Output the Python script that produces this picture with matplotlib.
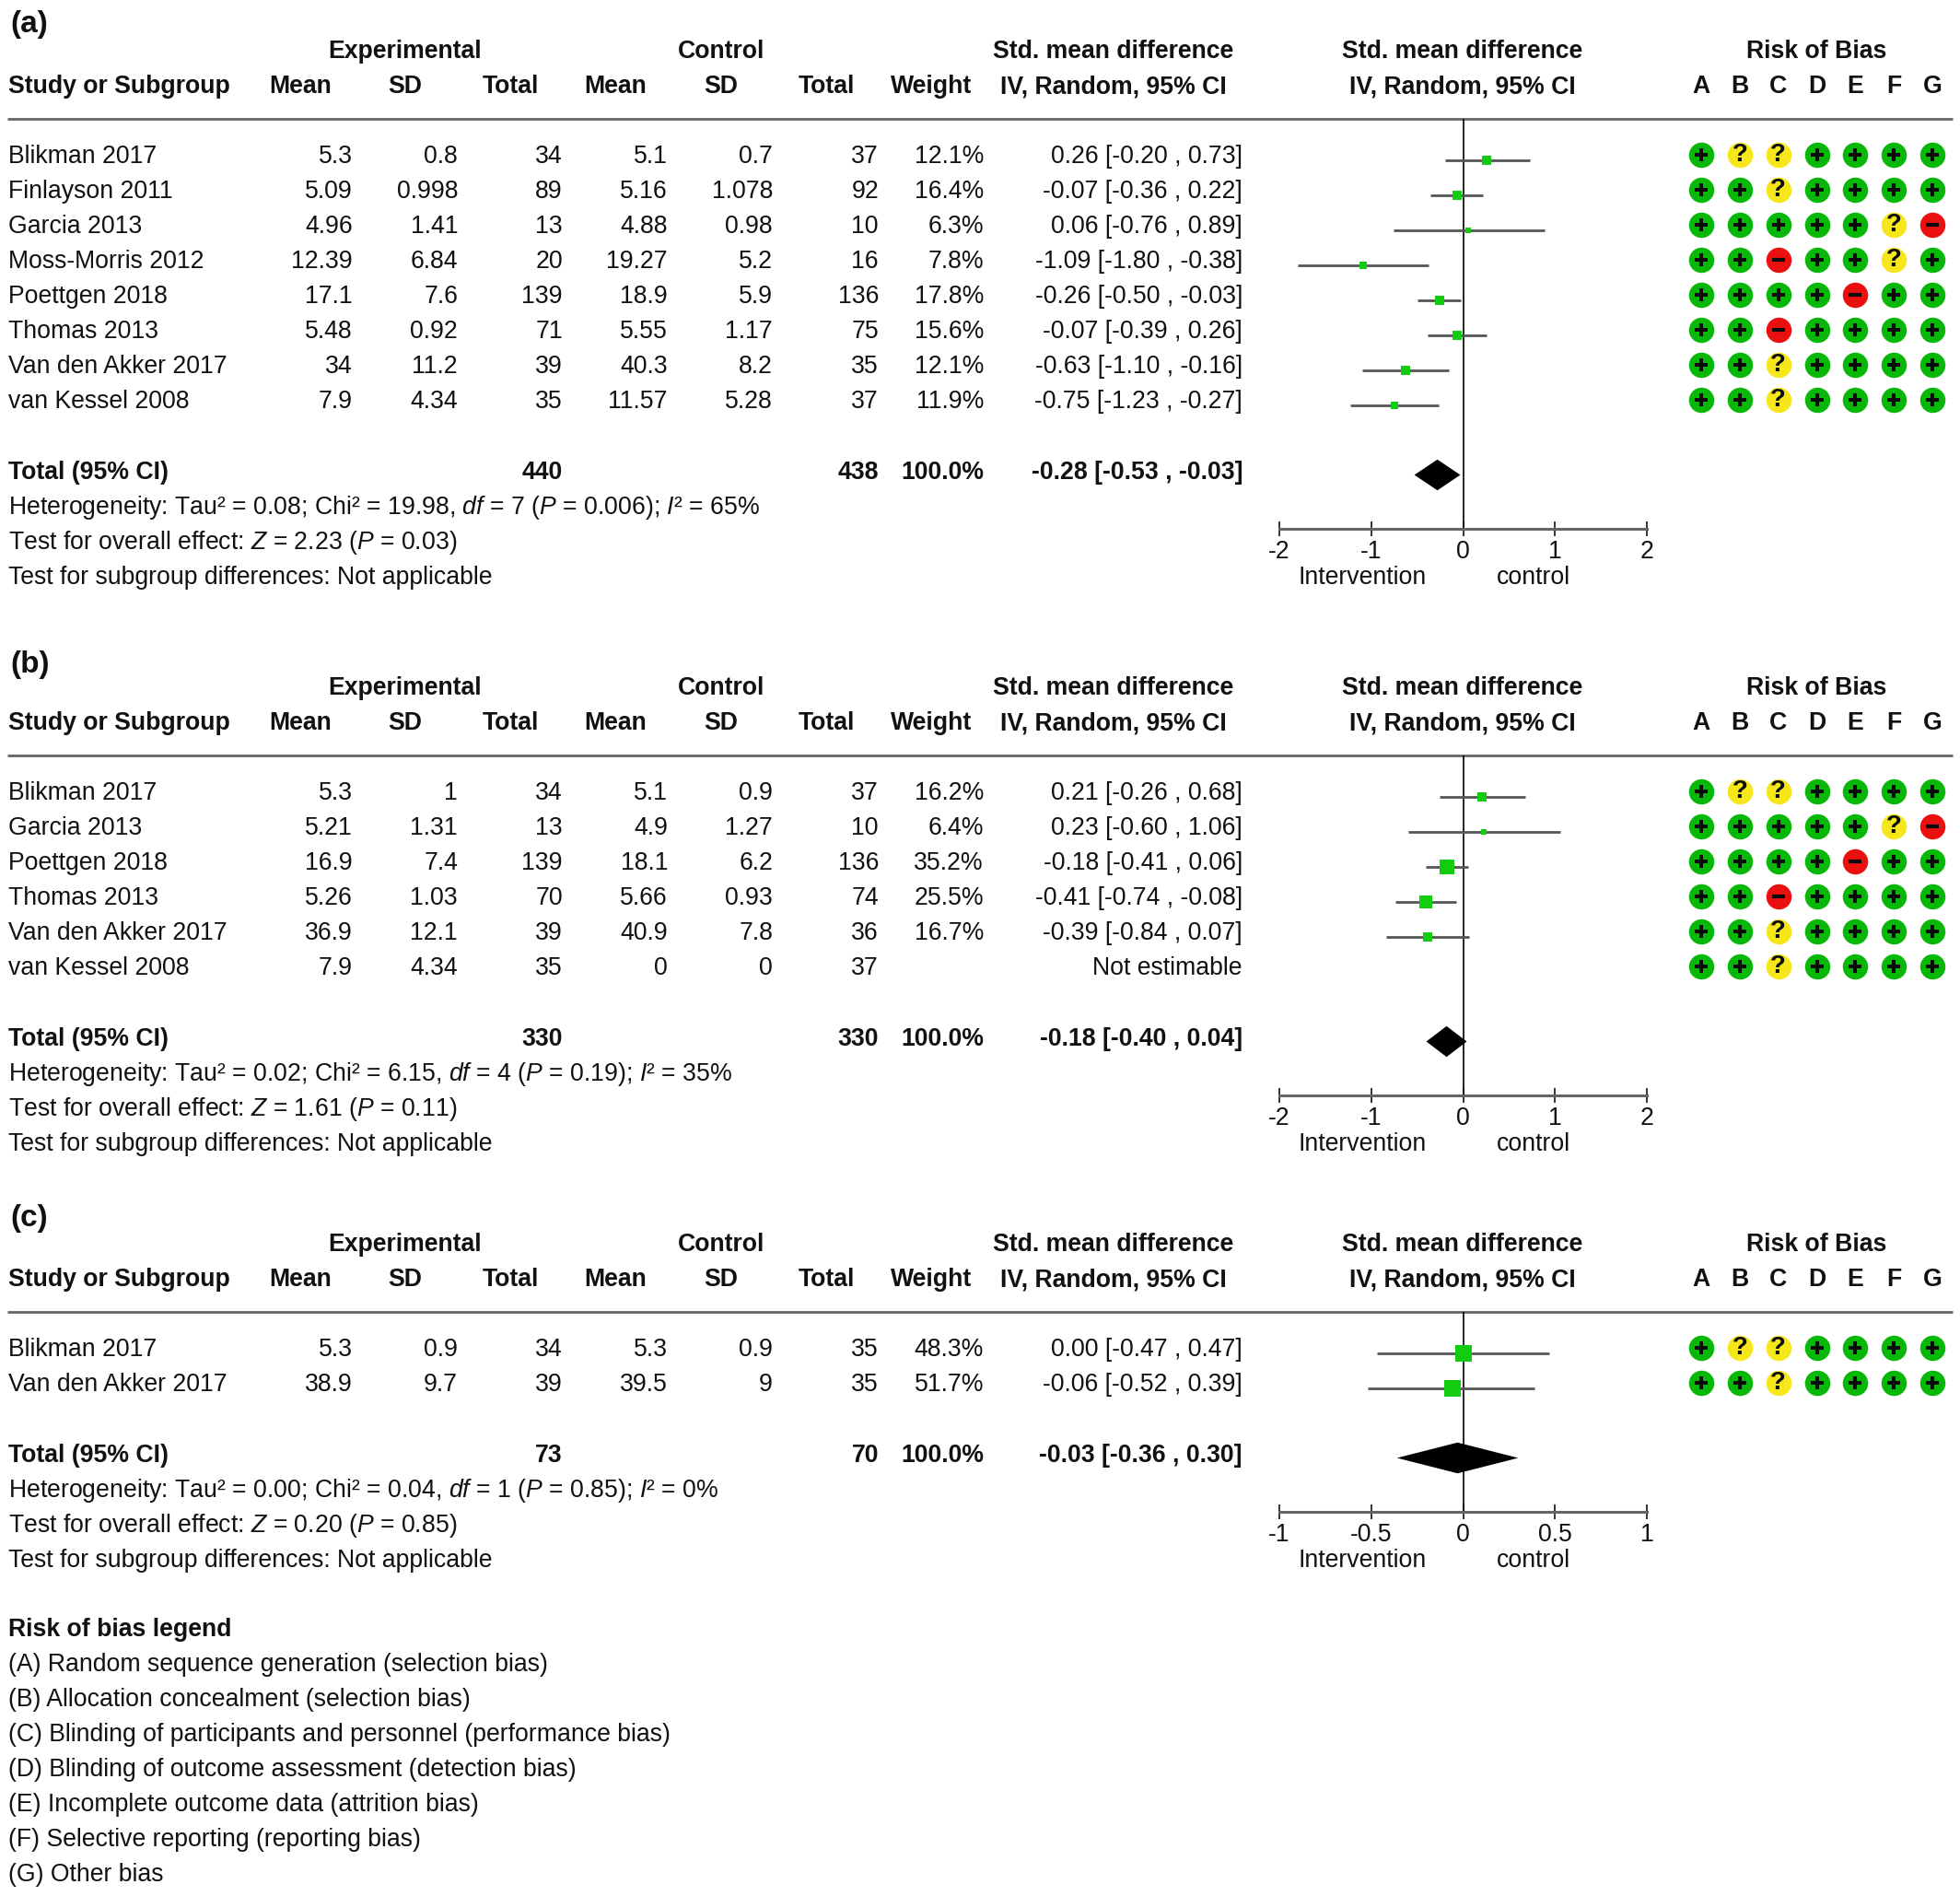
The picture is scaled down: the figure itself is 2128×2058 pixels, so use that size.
"""Forest plots (a), (b), (c) with risk of bias table."""

import numpy as np
import matplotlib
matplotlib.use('Agg')
import matplotlib.pyplot as plt

plt.rcParams['font.family'] = 'Liberation Sans'
plt.rcParams['mathtext.fontset'] = 'custom'
plt.rcParams['mathtext.rm'] = 'Liberation Sans'
plt.rcParams['mathtext.it'] = 'Liberation Sans:italic'
plt.rcParams['mathtext.bf'] = 'Liberation Sans:bold'
plt.rcParams['mathtext.default'] = 'regular'

# Panel (a)

a_study = ['Blikman 2017', 'Finlayson 2011', 'Garcia 2013', 'Moss-Morris 2012',
           'Poettgen 2018', 'Thomas 2013', 'Van den Akker 2017', 'van Kessel 2008']
a_mean_e = ['5.3', '5.09', '4.96', '12.39', '17.1', '5.48', '34', '7.9']
a_sd_e = ['0.8', '0.998', '1.41', '6.84', '7.6', '0.92', '11.2', '4.34']
a_n_e = ['34', '89', '13', '20', '139', '71', '39', '35']
a_mean_c = ['5.1', '5.16', '4.88', '19.27', '18.9', '5.55', '40.3', '11.57']
a_sd_c = ['0.7', '1.078', '0.98', '5.2', '5.9', '1.17', '8.2', '5.28']
a_n_c = ['37', '92', '10', '16', '136', '75', '35', '37']
a_weight = [12.1, 16.4, 6.3, 7.8, 17.8, 15.6, 12.1, 11.9]
a_smd = [0.26, -0.07, 0.06, -1.09, -0.26, -0.07, -0.63, -0.75]
a_lo = [-0.20, -0.36, -0.76, -1.80, -0.50, -0.39, -1.10, -1.23]
a_hi = [0.73, 0.22, 0.89, -0.38, -0.03, 0.26, -0.16, -0.27]
a_total = ['440', '438', -0.28, -0.53, -0.03]
a_het = [r'Heterogeneity: Tau² = 0.08; Chi² = 19.98, $\mathit{df}$ = 7 ($\mathit{P}$ = 0.006); $\mathit{I}$² = 65%',
         r'Test for overall effect: $\mathit{Z}$ = 2.23 ($\mathit{P}$ = 0.03)']

# Panel (b)

b_study = ['Blikman 2017', 'Garcia 2013', 'Poettgen 2018', 'Thomas 2013',
           'Van den Akker 2017', 'van Kessel 2008']
b_mean_e = ['5.3', '5.21', '16.9', '5.26', '36.9', '7.9']
b_sd_e = ['1', '1.31', '7.4', '1.03', '12.1', '4.34']
b_n_e = ['34', '13', '139', '70', '39', '35']
b_mean_c = ['5.1', '4.9', '18.1', '5.66', '40.9', '0']
b_sd_c = ['0.9', '1.27', '6.2', '0.93', '7.8', '0']
b_n_c = ['37', '10', '136', '74', '36', '37']
b_weight = [16.2, 6.4, 35.2, 25.5, 16.7, None]
b_smd = [0.21, 0.23, -0.18, -0.41, -0.39, None]
b_lo = [-0.26, -0.60, -0.41, -0.74, -0.84, None]
b_hi = [0.68, 1.06, 0.06, -0.08, 0.07, None]
b_total = ['330', '330', -0.18, -0.40, 0.04]
b_het = [r'Heterogeneity: Tau² = 0.02; Chi² = 6.15, $\mathit{df}$ = 4 ($\mathit{P}$ = 0.19); $\mathit{I}$² = 35%',
         r'Test for overall effect: $\mathit{Z}$ = 1.61 ($\mathit{P}$ = 0.11)']

# Panel (c)

c_study = ['Blikman 2017', 'Van den Akker 2017']
c_mean_e = ['5.3', '38.9']
c_sd_e = ['0.9', '9.7']
c_n_e = ['34', '39']
c_mean_c = ['5.3', '39.5']
c_sd_c = ['0.9', '9']
c_n_c = ['35', '35']
c_weight = [48.3, 51.7]
c_smd = [0.00, -0.06]
c_lo = [-0.47, -0.52]
c_hi = [0.47, 0.39]
c_total = ['73', '70', -0.03, -0.36, 0.30]
c_het = [r'Heterogeneity: Tau² = 0.00; Chi² = 0.04, $\mathit{df}$ = 1 ($\mathit{P}$ = 0.85); $\mathit{I}$² = 0%',
         r'Test for overall effect: $\mathit{Z}$ = 0.20 ($\mathit{P}$ = 0.85)']

# Risk of bias judgements, columns A to G

rob_letters = ['A', 'B', 'C', 'D', 'E', 'F', 'G']
rob_by_study = {
    'Blikman 2017': '+??++++',
    'Finlayson 2011': '++?++++',
    'Garcia 2013': '+++++?-',
    'Moss-Morris 2012': '++-++?+',
    'Poettgen 2018': '++++-++',
    'Thomas 2013': '++-++++',
    'Van den Akker 2017': '++?++++',
    'van Kessel 2008': '++?++++',
}

legend_title = 'Risk of bias legend'
legend_lines = ['(A) Random sequence generation (selection bias)',
                '(B) Allocation concealment (selection bias)',
                '(C) Blinding of participants and personnel (performance bias)',
                '(D) Blinding of outcome assessment (detection bias)',
                '(E) Incomplete outcome data (attrition bias)',
                '(F) Selective reporting (reporting bias)',
                '(G) Other bias']

# Layout in pixels of the 2128x2058 picture

W, H = 2128, 2058
ROW = 38.0
FS = 19.2
TXT = '#111111'
LINE = '#666666'
GREEN = '#08b808'
YELLOW = '#f6e71a'
RED = '#ea1010'
SQUARE = '#12cc12'

fig = plt.figure(figsize=(W / 100, H / 100), dpi=100)
page = fig.add_axes([0, 0, 1, 1])
page.set_xlim(0, W)
page.set_ylim(H, 0)
page.axis('off')


def put(x, y, s, ha='left', weight='normal', size=FS):
    # y is the middle of the capitals, text is placed on its baseline
    page.text(x, y + size * 0.5 - 0.3, s, ha=ha, va='baseline', fontsize=size,
              fontweight=weight, color=TXT)


def px_axes(left, right, top, bottom):
    ax = fig.add_axes([left / W, 1 - bottom / H, (right - left) / W, (bottom - top) / H])
    ax.patch.set_alpha(0)
    return ax


def ci_text(est, lo, hi):
    return f'{est:.2f} [{lo:.2f} , {hi:.2f}]'


def draw_panel(label, y_label, y_head, study, mean_e, sd_e, n_e, mean_c, sd_c, n_c,
               weight, smd, lo, hi, total, het, xticks, xticklabels):
    y_head2 = y_head + 38
    y_rule = y_head + 75
    y0 = y_head + 114
    n = len(study)
    total_row = n + 1
    y_total = y0 + total_row * ROW + 1
    y_axis = y_total + 63

    put(11, y_label, label, weight='bold', size=24)

    # Header
    put(440, y_head, 'Experimental', ha='center', weight='bold')
    put(783, y_head, 'Control', ha='center', weight='bold')
    put(1209, y_head, 'Std. mean difference', ha='center', weight='bold')
    put(1588, y_head, 'Std. mean difference', ha='center', weight='bold')
    put(1972, y_head, 'Risk of Bias', ha='center', weight='bold')
    put(9, y_head2, 'Study or Subgroup', weight='bold')
    for x, s in zip([326, 440, 554, 668, 783, 897, 1011],
                    ['Mean', 'SD', 'Total', 'Mean', 'SD', 'Total', 'Weight']):
        put(x, y_head2, s, ha='center', weight='bold')
    put(1209, y_head2, 'IV, Random, 95% CI', ha='center', weight='bold')
    put(1588, y_head2, 'IV, Random, 95% CI', ha='center', weight='bold')
    page.plot([8, 2120], [y_rule, y_rule], color=LINE, lw=2.0, solid_capstyle='butt')

    # Table rows
    for i in range(n):
        y = y0 + i * ROW
        put(9, y, study[i])
        put(383, y, mean_e[i], ha='right')
        put(497, y, sd_e[i], ha='right')
        put(611, y, n_e[i], ha='right')
        put(725, y, mean_c[i], ha='right')
        put(839, y, sd_c[i], ha='right')
        put(954, y, n_c[i], ha='right')
        if smd[i] is None:
            put(1349, y, 'Not estimable', ha='right')
        else:
            put(1068, y, f'{weight[i]:.1f}%', ha='right')
            put(1349, y, ci_text(smd[i], lo[i], hi[i]), ha='right')

    put(9, y_total, 'Total (95% CI)', weight='bold')
    put(611, y_total, total[0], ha='right', weight='bold')
    put(954, y_total, total[1], ha='right', weight='bold')
    put(1068, y_total, '100.0%', ha='right', weight='bold')
    put(1349, y_total, ci_text(total[2], total[3], total[4]), ha='right', weight='bold')
    put(9, y_total + ROW, het[0])
    put(9, y_total + 2 * ROW, het[1])
    put(9, y_total + 3 * ROW, 'Test for subgroup differences: Not applicable')
    put(1479, y_total + 3 * ROW, 'Intervention', ha='center')
    put(1665, y_total + 3 * ROW, 'control', ha='center')

    # Forest plot, y unit is one table row
    ax = px_axes(1389, 1788, y_rule, y_axis)
    ax.set_xlim(xticks[0], xticks[-1])
    ax.set_ylim((y_axis - y0) / ROW, (y_rule - y0) / ROW)
    for side in ['top', 'left', 'right']:
        ax.spines[side].set_visible(False)
    ax.spines['bottom'].set_color(LINE)
    ax.spines['bottom'].set_linewidth(2.2)
    ax.set_yticks([])
    ax.set_xticks(xticks)
    ax.set_xticklabels(xticklabels, fontsize=FS, color=TXT)
    ax.tick_params(axis='x', direction='inout', length=12, width=1.4, color='#333333', pad=2.5)
    ax.axvline(0, color='black', lw=1.2, zorder=2)
    for i in range(n):
        if smd[i] is None:
            continue
        ax.plot([lo[i], hi[i]], [i + 0.145, i + 0.145], color='#555555', lw=2.0,
                solid_capstyle='butt', zorder=3)
        side_px = 2.6 * np.sqrt(weight[i])
        ax.scatter([smd[i]], [i + 0.145], marker='s', s=(side_px * 0.72) ** 2,
                   color=SQUARE, linewidths=0, zorder=4)
    ym = total_row + 0.145
    ax.fill([total[3], total[2], total[4], total[2]], [ym, ym - 0.44, ym, ym + 0.44],
            color='black', lw=0, zorder=5)

    # Risk of bias dots
    rob = px_axes(1826, 2119, y_rule, y_axis)
    rob.set_xlim(-0.5, 6.5)
    rob.set_ylim((y_axis - y0) / ROW, (y_rule - y0) / ROW)
    rob.axis('off')
    colors = {'+': GREEN, '?': YELLOW, '-': RED}
    for j, letter in enumerate(rob_letters):
        put(1847 + j * 41.9, y_head2, letter, ha='center', weight='bold')
    for i, name in enumerate(study):
        for j, mark in enumerate(rob_by_study[name]):
            rob.scatter([j], [i], s=(27.5 * 0.72) ** 2, color=colors[mark], linewidths=0, zorder=2)
            if mark == '+':
                rob.plot([j], [i], marker='+', ms=10.5, mew=2.9, color='#0a0a0a', zorder=3)
            elif mark == '-':
                rob.plot([j], [i], marker='_', ms=10, mew=3.0, color='#0a0a0a', zorder=3)
            else:
                rob.text(j, i, '?', ha='center', va='center', fontsize=20,
                         fontweight='bold', color='#0a0a0a', zorder=3)


draw_panel('(a)', 23, 54, a_study, a_mean_e, a_sd_e, a_n_e, a_mean_c, a_sd_c, a_n_c,
           a_weight, a_smd, a_lo, a_hi, a_total, a_het,
           [-2, -1, 0, 1, 2], ['-2', '-1', '0', '1', '2'])
draw_panel('(b)', 718, 745, b_study, b_mean_e, b_sd_e, b_n_e, b_mean_c, b_sd_c, b_n_c,
           b_weight, b_smd, b_lo, b_hi, b_total, b_het,
           [-2, -1, 0, 1, 2], ['-2', '-1', '0', '1', '2'])
draw_panel('(c)', 1319, 1349, c_study, c_mean_e, c_sd_e, c_n_e, c_mean_c, c_sd_c, c_n_c,
           c_weight, c_smd, c_lo, c_hi, c_total, c_het,
           [-1, -0.5, 0, 0.5, 1], ['-1', '-0.5', '0', '0.5', '1'])

# Legend

put(9, 1767, legend_title, weight='bold')
for k, line in enumerate(legend_lines):
    put(9, 1805 + k * ROW, line)

fig.savefig('out.png', dpi=100)
